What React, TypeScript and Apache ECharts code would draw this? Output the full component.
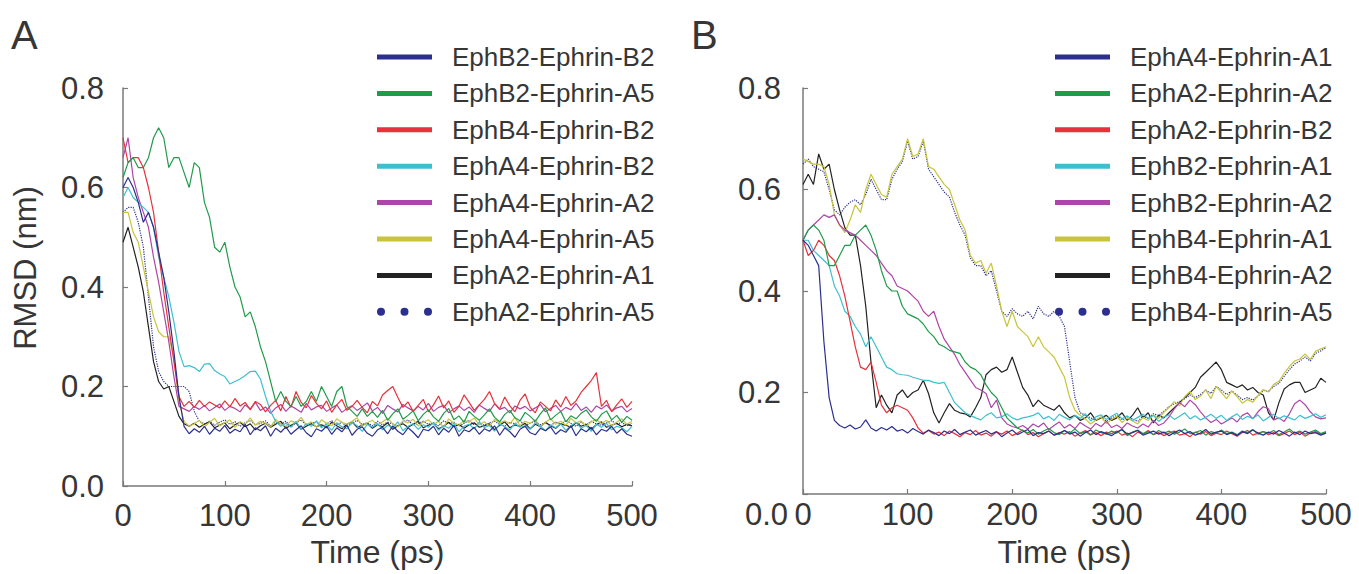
import React, { useEffect, useRef } from "react";
import * as echarts from "echarts";

// Time axis (ps), sampled every 5 ps
const TIME: number[] = Array.from({ length: 101 }, (_, i) => i * 5);

// Panel A
const A_NAMES = [
  "EphB2-Ephrin-B2",
  "EphB2-Ephrin-A5",
  "EphB4-Ephrin-B2",
  "EphA4-Ephrin-B2",
  "EphA4-Ephrin-A2",
  "EphA4-Ephrin-A5",
  "EphA2-Ephrin-A1",
  "EphA2-Ephrin-A5",
];

const A_EPHB2_B2 = [0.60,0.62,0.60,0.57,0.53,0.55,0.52,0.47,0.42,0.35,
0.27,0.18,0.12,0.105,0.115,0.108,0.12,0.104,0.116,0.11,
0.122,0.106,0.114,0.109,0.124,0.103,0.117,0.111,0.121,0.1,
0.116,0.108,0.119,0.104,0.113,0.121,0.107,0.099,0.115,0.11,
0.12,0.104,0.117,0.109,0.122,0.102,0.114,0.119,0.106,0.1,
0.113,0.118,0.105,0.121,0.11,0.103,0.117,0.108,0.097,0.114,
0.111,0.12,0.103,0.116,0.108,0.122,0.1,0.113,0.109,0.118,
0.104,0.115,0.11,0.121,0.102,0.117,0.109,0.098,0.114,0.12,
0.107,0.103,0.116,0.111,0.119,0.104,0.113,0.108,0.121,0.101,
0.115,0.109,0.118,0.103,0.114,0.11,0.12,0.106,0.115,0.104,0.1];

const A_EPHB2_A5 = [0.62,0.65,0.66,0.64,0.64,0.66,0.70,0.72,0.70,0.64,
0.66,0.66,0.63,0.60,0.65,0.64,0.57,0.54,0.48,0.47,
0.49,0.44,0.40,0.38,0.34,0.35,0.32,0.28,0.25,0.21,
0.17,0.19,0.17,0.16,0.18,0.16,0.17,0.19,0.17,0.20,
0.18,0.16,0.19,0.20,0.16,0.15,0.14,0.155,0.14,0.15,
0.138,0.152,0.132,0.145,0.155,0.134,0.142,0.151,0.131,0.144,
0.153,0.139,0.13,0.146,0.156,0.133,0.141,0.128,0.15,0.14,
0.132,0.143,0.155,0.138,0.129,0.144,0.152,0.137,0.131,0.148,
0.14,0.13,0.145,0.157,0.133,0.142,0.15,0.129,0.141,0.135,
0.146,0.153,0.139,0.13,0.144,0.151,0.133,0.142,0.128,0.14,0.132];

const A_EPHB4_B2 = [0.70,0.65,0.66,0.66,0.64,0.60,0.55,0.47,0.39,0.32,
0.25,0.18,0.16,0.17,0.158,0.172,0.16,0.169,0.163,0.157,
0.171,0.159,0.176,0.161,0.168,0.153,0.17,0.164,0.149,0.162,
0.172,0.151,0.18,0.158,0.19,0.168,0.157,0.182,0.166,0.155,
0.171,0.148,0.163,0.174,0.152,0.16,0.172,0.158,0.147,0.17,
0.161,0.183,0.192,0.2,0.178,0.158,0.169,0.15,0.162,0.174,
0.149,0.163,0.181,0.157,0.171,0.148,0.16,0.183,0.168,0.152,
0.163,0.174,0.19,0.166,0.155,0.179,0.161,0.149,0.172,0.185,
0.158,0.147,0.169,0.16,0.151,0.173,0.159,0.18,0.162,0.171,
0.188,0.2,0.212,0.228,0.16,0.172,0.149,0.163,0.175,0.158,0.17];

const A_EPHA4_B2 = [0.58,0.60,0.58,0.57,0.56,0.55,0.52,0.46,0.42,0.38,
0.33,0.27,0.24,0.242,0.238,0.23,0.245,0.246,0.232,0.225,
0.22,0.205,0.21,0.215,0.222,0.23,0.231,0.215,0.18,0.15,
0.13,0.12,0.126,0.118,0.13,0.114,0.125,0.12,0.131,0.117,
0.124,0.112,0.127,0.119,0.115,0.128,0.121,0.11,0.124,0.118,
0.126,0.113,0.122,0.117,0.129,0.111,0.12,0.125,0.114,0.123,
0.118,0.127,0.112,0.121,0.116,0.126,0.109,0.12,0.124,0.115,
0.128,0.117,0.122,0.11,0.125,0.119,0.113,0.126,0.118,0.121,
0.114,0.127,0.12,0.111,0.123,0.117,0.125,0.112,0.121,0.128,
0.116,0.122,0.11,0.124,0.118,0.126,0.113,0.12,0.117,0.109,0.12];

const A_EPHA4_A2 = [0.66,0.70,0.62,0.58,0.55,0.52,0.46,0.41,0.35,0.29,
0.22,0.16,0.155,0.15,0.16,0.154,0.162,0.151,0.158,0.165,
0.152,0.16,0.156,0.149,0.163,0.155,0.168,0.152,0.159,0.146,
0.157,0.164,0.15,0.161,0.155,0.148,0.166,0.153,0.159,0.162,
0.15,0.157,0.163,0.148,0.156,0.161,0.152,0.159,0.167,0.151,
0.158,0.146,0.162,0.155,0.149,0.164,0.157,0.151,0.16,0.153,
0.166,0.15,0.158,0.162,0.147,0.155,0.161,0.152,0.159,0.148,
0.163,0.156,0.15,0.165,0.154,0.158,0.147,0.161,0.155,0.16,
0.151,0.157,0.164,0.149,0.156,0.162,0.15,0.158,0.153,0.166,
0.152,0.159,0.148,0.161,0.155,0.163,0.151,0.157,0.16,0.149,0.156];

const A_EPHA4_A5 = [0.55,0.55,0.51,0.49,0.44,0.39,0.34,0.31,0.30,0.30,
0.26,0.17,0.13,0.12,0.125,0.132,0.119,0.128,0.136,0.121,
0.127,0.133,0.118,0.129,0.124,0.137,0.122,0.13,0.126,0.119,
0.134,0.125,0.12,0.131,0.127,0.138,0.123,0.129,0.118,0.133,
0.126,0.121,0.135,0.128,0.124,0.13,0.137,0.12,0.127,0.132,
0.122,0.129,0.136,0.125,0.119,0.131,0.127,0.134,0.121,0.128,
0.133,0.124,0.13,0.118,0.135,0.126,0.122,0.132,0.128,0.137,
0.123,0.129,0.12,0.134,0.127,0.131,0.125,0.138,0.121,0.13,
0.126,0.133,0.119,0.128,0.135,0.124,0.13,0.122,0.136,0.127,
0.131,0.12,0.129,0.134,0.125,0.132,0.121,0.128,0.135,0.124,0.13];

const A_EPHA2_A1 = [0.49,0.52,0.48,0.44,0.39,0.32,0.25,0.21,0.195,0.20,
0.17,0.14,0.125,0.12,0.126,0.118,0.124,0.129,0.117,0.122,
0.127,0.115,0.123,0.128,0.119,0.125,0.113,0.121,0.126,0.118,
0.124,0.13,0.116,0.122,0.127,0.114,0.12,0.125,0.119,0.123,
0.117,0.128,0.121,0.115,0.124,0.129,0.118,0.122,0.126,0.116,
0.123,0.119,0.127,0.114,0.121,0.125,0.118,0.124,0.13,0.117,
0.122,0.126,0.115,0.12,0.128,0.119,0.124,0.116,0.123,0.127,
0.118,0.121,0.125,0.113,0.122,0.129,0.117,0.123,0.12,0.126,
0.115,0.124,0.119,0.128,0.121,0.116,0.125,0.122,0.118,0.127,
0.12,0.124,0.114,0.123,0.129,0.118,0.122,0.126,0.119,0.124,0.121];

const A_EPHA2_A5 = [0.55,0.56,0.56,0.53,0.48,0.38,0.28,0.23,0.21,0.20,
0.20,0.20,0.20,0.19,0.15,0.13,0.125,0.13,0.122,0.128,
0.133,0.124,0.129,0.12,0.127,0.132,0.123,0.126,0.131,0.121,
0.128,0.124,0.13,0.119,0.127,0.133,0.122,0.126,0.129,0.12,
0.125,0.131,0.123,0.128,0.119,0.126,0.132,0.124,0.127,0.121,
0.13,0.123,0.128,0.125,0.12,0.129,0.133,0.122,0.126,0.13,
0.124,0.127,0.121,0.131,0.125,0.128,0.12,0.126,0.132,0.123,
0.129,0.122,0.127,0.13,0.124,0.12,0.128,0.125,0.131,0.122,
0.126,0.13,0.123,0.127,0.121,0.129,0.124,0.132,0.126,0.12,
0.128,0.123,0.13,0.125,0.122,0.127,0.131,0.124,0.128,0.121,0.126];

// Panel B
const B_NAMES = [
  "EphA4-Ephrin-A1",
  "EphA2-Ephrin-A2",
  "EphA2-Ephrin-B2",
  "EphB2-Ephrin-A1",
  "EphB2-Ephrin-A2",
  "EphB4-Ephrin-A1",
  "EphB4-Ephrin-A2",
  "EphB4-Ephrin-A5",
];

const B_EPHA4_A1 = [0.50,0.49,0.47,0.45,0.30,0.19,0.145,0.135,0.13,0.136,
0.128,0.132,0.146,0.13,0.124,0.131,0.126,0.133,0.124,0.127,
0.12,0.129,0.123,0.118,0.126,0.121,0.115,0.124,0.119,0.127,
0.117,0.122,0.126,0.116,0.121,0.125,0.118,0.123,0.113,0.12,
0.126,0.117,0.122,0.127,0.115,0.121,0.119,0.124,0.116,0.12,
0.125,0.118,0.122,0.114,0.121,0.126,0.117,0.123,0.119,0.115,
0.122,0.127,0.118,0.121,0.125,0.116,0.12,0.124,0.118,0.122,
0.115,0.121,0.126,0.119,0.123,0.116,0.12,0.127,0.118,0.122,
0.124,0.117,0.121,0.115,0.123,0.119,0.126,0.12,0.116,0.122,
0.118,0.125,0.12,0.114,0.122,0.117,0.124,0.119,0.121,0.116,0.12];

const B_EPHA2_A2 = [0.50,0.52,0.53,0.52,0.50,0.45,0.45,0.47,0.49,0.49,
0.51,0.52,0.53,0.51,0.48,0.44,0.41,0.40,0.40,0.37,
0.355,0.35,0.345,0.335,0.32,0.31,0.295,0.29,0.283,0.28,
0.277,0.26,0.25,0.245,0.235,0.215,0.20,0.19,0.17,0.15,
0.14,0.13,0.125,0.12,0.127,0.118,0.124,0.129,0.121,0.117,
0.125,0.12,0.128,0.119,0.123,0.116,0.126,0.121,0.118,0.124,
0.12,0.127,0.115,0.122,0.126,0.119,0.123,0.117,0.125,0.12,
0.124,0.118,0.122,0.128,0.119,0.121,0.125,0.116,0.123,0.12,
0.126,0.119,0.122,0.117,0.124,0.121,0.127,0.118,0.123,0.12,
0.125,0.117,0.122,0.128,0.12,0.124,0.118,0.122,0.126,0.119,0.123];

const B_EPHA2_B2 = [0.50,0.47,0.48,0.50,0.49,0.47,0.46,0.43,0.39,0.34,
0.29,0.25,0.245,0.26,0.22,0.175,0.16,0.17,0.175,0.17,
0.165,0.15,0.13,0.12,0.125,0.118,0.122,0.115,0.124,0.119,
0.113,0.121,0.117,0.125,0.116,0.12,0.114,0.122,0.118,0.124,
0.115,0.12,0.126,0.117,0.121,0.113,0.119,0.124,0.116,0.121,
0.118,0.123,0.114,0.12,0.125,0.117,0.121,0.115,0.122,0.119,
0.124,0.116,0.12,0.113,0.122,0.118,0.125,0.117,0.121,0.115,
0.12,0.124,0.116,0.119,0.113,0.122,0.118,0.123,0.115,0.12,
0.117,0.124,0.119,0.114,0.121,0.125,0.116,0.12,0.123,0.117,
0.121,0.115,0.119,0.124,0.117,0.122,0.114,0.12,0.123,0.118,0.121];

const B_EPHB2_A1 = [0.50,0.50,0.48,0.47,0.46,0.45,0.41,0.39,0.36,0.35,
0.33,0.315,0.29,0.31,0.29,0.27,0.25,0.245,0.237,0.235,
0.234,0.23,0.227,0.224,0.224,0.22,0.218,0.22,0.20,0.18,
0.17,0.16,0.155,0.15,0.146,0.155,0.16,0.15,0.152,0.158,
0.15,0.146,0.15,0.152,0.155,0.16,0.148,0.153,0.145,0.157,
0.151,0.146,0.155,0.149,0.158,0.144,0.152,0.156,0.147,0.153,
0.159,0.148,0.154,0.145,0.151,0.157,0.149,0.155,0.143,0.152,
0.156,0.147,0.153,0.16,0.148,0.154,0.146,0.151,0.157,0.149,
0.155,0.145,0.152,0.158,0.147,0.153,0.149,0.156,0.144,0.151,
0.157,0.148,0.154,0.15,0.146,0.155,0.149,0.153,0.158,0.151,0.156];

const B_EPHB2_A2 = [0.50,0.52,0.53,0.54,0.55,0.545,0.55,0.53,0.52,0.515,
0.51,0.50,0.49,0.48,0.47,0.455,0.44,0.43,0.41,0.405,
0.40,0.39,0.38,0.36,0.35,0.36,0.33,0.305,0.29,0.275,
0.255,0.24,0.225,0.21,0.205,0.198,0.17,0.185,0.15,0.138,
0.133,0.13,0.135,0.128,0.138,0.132,0.14,0.127,0.135,0.142,
0.13,0.137,0.129,0.141,0.134,0.128,0.139,0.133,0.143,0.131,
0.136,0.129,0.14,0.134,0.13,0.138,0.132,0.145,0.135,0.14,
0.152,0.168,0.18,0.172,0.185,0.176,0.162,0.15,0.141,0.147,
0.138,0.144,0.15,0.142,0.155,0.16,0.148,0.162,0.172,0.168,
0.146,0.15,0.143,0.158,0.178,0.185,0.176,0.162,0.152,0.148,0.15];

const B_EPHB4_A1 = [0.66,0.655,0.65,0.65,0.645,0.61,0.55,0.53,0.515,0.54,
0.57,0.555,0.60,0.63,0.61,0.59,0.585,0.63,0.645,0.66,
0.70,0.665,0.67,0.70,0.645,0.64,0.625,0.61,0.60,0.57,
0.54,0.52,0.47,0.455,0.46,0.435,0.455,0.41,0.36,0.33,
0.36,0.33,0.32,0.31,0.29,0.31,0.29,0.28,0.27,0.25,
0.23,0.19,0.165,0.155,0.148,0.138,0.146,0.152,0.139,0.147,
0.153,0.141,0.15,0.144,0.138,0.151,0.145,0.156,0.149,0.161,
0.171,0.182,0.174,0.192,0.202,0.186,0.193,0.205,0.188,0.212,
0.2,0.188,0.203,0.192,0.179,0.186,0.181,0.194,0.206,0.201,
0.216,0.222,0.238,0.251,0.262,0.266,0.276,0.265,0.281,0.286,0.29];

const B_EPHB4_A2 = [0.61,0.63,0.61,0.67,0.64,0.65,0.60,0.56,0.525,0.51,
0.51,0.45,0.37,0.26,0.17,0.195,0.175,0.16,0.195,0.205,
0.19,0.2,0.205,0.224,0.198,0.16,0.14,0.16,0.178,0.165,
0.16,0.158,0.152,0.17,0.19,0.235,0.245,0.25,0.24,0.245,
0.27,0.24,0.21,0.195,0.172,0.185,0.175,0.17,0.165,0.175,
0.16,0.15,0.155,0.145,0.15,0.16,0.145,0.15,0.155,0.145,
0.15,0.16,0.145,0.155,0.17,0.15,0.16,0.14,0.155,0.15,
0.16,0.17,0.18,0.19,0.2,0.21,0.23,0.24,0.25,0.26,
0.245,0.22,0.215,0.21,0.215,0.205,0.21,0.2,0.195,0.16,
0.146,0.18,0.207,0.215,0.22,0.22,0.2,0.205,0.21,0.228,0.22];

const B_EPHB4_A5 = [0.65,0.66,0.645,0.64,0.635,0.60,0.56,0.55,0.565,0.575,
0.58,0.57,0.59,0.62,0.60,0.58,0.58,0.62,0.64,0.655,
0.695,0.66,0.665,0.695,0.64,0.625,0.61,0.595,0.585,0.555,
0.53,0.51,0.465,0.45,0.45,0.43,0.44,0.40,0.36,0.35,
0.365,0.355,0.35,0.36,0.345,0.37,0.355,0.35,0.36,0.35,
0.33,0.26,0.19,0.16,0.155,0.15,0.145,0.152,0.143,0.15,
0.155,0.146,0.152,0.148,0.143,0.153,0.149,0.158,0.155,0.163,
0.172,0.178,0.182,0.188,0.195,0.19,0.196,0.205,0.198,0.212,
0.205,0.196,0.203,0.195,0.186,0.19,0.185,0.193,0.204,0.202,
0.212,0.218,0.232,0.245,0.256,0.262,0.27,0.262,0.277,0.282,0.288];

const A_VALUES = [A_EPHB2_B2, A_EPHB2_A5, A_EPHB4_B2, A_EPHA4_B2, A_EPHA4_A2, A_EPHA4_A5, A_EPHA2_A1, A_EPHA2_A5];
const B_VALUES = [B_EPHA4_A1, B_EPHA2_A2, B_EPHA2_B2, B_EPHB2_A1, B_EPHB2_A2, B_EPHB4_A1, B_EPHB4_A2, B_EPHB4_A5];

const COLORS = ["#2b2f8f", "#1f9b4a", "#e5323b", "#3cc0cf", "#ad46a6", "#c8c53a", "#222222", "#2b2f8f"];

const Y_TICKS = [0, 0.2, 0.4, 0.6, 0.8];

const FONT = "'Liberation Sans', Arial, Helvetica, sans-serif";
const TXT = "#363636";
const AXIS = "#7a7a7a";

const BAR_ICON = "path://M0,0L0.01,0M0,1.5H55V6.5H0ZM54.99,8L55,8";
const DOT_ICON =
  "path://M0,4A4,4 0 1,1 8,4A4,4 0 1,1 0,4ZM23.5,4A4,4 0 1,1 31.5,4A4,4 0 1,1 23.5,4ZM47,4A4,4 0 1,1 55,4A4,4 0 1,1 47,4Z";

function makeSeries(names: string[], values: number[][], axisIndex: number) {
  return names.map((name, i) => ({
    name,
    type: "line",
    xAxisIndex: axisIndex,
    yAxisIndex: axisIndex,
    showSymbol: false,
    symbol: "none",
    color: COLORS[i],
    lineStyle: { width: 1.2, color: COLORS[i], type: i === 7 ? "dotted" : "solid" },
    data: values[i].map((v, k) => [TIME[k], v]),
    z: 2 + (7 - i),
  }));
}

function makeLegend(names: string[], left: number) {
  return {
    orient: "vertical",
    left,
    top: 44,
    padding: 0,
    itemWidth: 55,
    itemHeight: 8,
    itemGap: 10.4,
    selectedMode: false,
    itemStyle: { borderWidth: 0 },
    textStyle: { fontSize: 26, color: TXT, fontFamily: FONT, lineHeight: 26, padding: [0, 0, 0, 15] },
    data: names.map((n, i) => ({ name: n, icon: i === 7 ? DOT_ICON : BAR_ICON })),
  };
}

function xAxisCfg(gridIndex: number, labelMargin: number, nameGap: number) {
  return {
    type: "value",
    gridIndex,
    min: 0,
    max: 500,
    interval: 100,
    name: "Time (ps)",
    nameLocation: "middle",
    nameGap,
    nameTextStyle: { fontSize: 32, color: TXT, fontFamily: FONT },
    axisLine: { show: true, lineStyle: { color: AXIS, width: 1.5 } },
    axisTick: { show: true, inside: true, length: 5, lineStyle: { color: AXIS, width: 1.2 } },
    axisLabel: { fontSize: 31, color: TXT, fontFamily: FONT, margin: labelMargin },
    splitLine: { show: false },
  };
}

function yAxisCfg(gridIndex: number, labelMargin: number, showZero: boolean, withName: boolean) {
  return {
    type: "value",
    gridIndex,
    min: 0,
    max: 0.8,
    interval: 0.2,
    name: withName ? "RMSD (nm)" : "",
    nameLocation: "middle",
    nameGap: 82,
    nameTextStyle: { fontSize: 31, color: TXT, fontFamily: FONT, padding: [0, 0, 0, 38] },
    axisLine: { show: true, lineStyle: { color: AXIS, width: 1.5 } },
    axisTick: { show: true, inside: true, length: 5, lineStyle: { color: AXIS, width: 1.2 } },
    axisLabel: {
      fontSize: 31,
      color: TXT,
      fontFamily: FONT,
      margin: labelMargin,
      formatter: (v: number) => (!showZero && Math.abs(v) < 1e-9 ? "" : Y_TICKS.includes(Math.round(v * 10) / 10) ? v.toFixed(1) : ""),
    },
    splitLine: { show: false },
  };
}

export default function App() {
  const ref = useRef<HTMLDivElement>(null);
  useEffect(() => {
    document.body.style.margin = "0";
    if (!ref.current) return;
    const chart = echarts.init(ref.current, null, { renderer: "svg" });
    chart.setOption({
      animation: false,
      backgroundColor: "#ffffff",
      textStyle: { fontFamily: FONT },
      grid: [
        { left: 123, top: 88, width: 509, height: 398 },
        { left: 803, top: 88, width: 523, height: 406 },
      ],
      xAxis: [xAxisCfg(0, 14, 50), xAxisCfg(1, 5, 42)],
      yAxis: [yAxisCfg(0, 19, true, true), yAxisCfg(1, 22, false, false)],
      legend: [makeLegend(A_NAMES, 377), makeLegend(B_NAMES, 1055)],
      graphic: [
        {
          type: "text",
          left: 11,
          top: 15,
          style: { text: "A", fontSize: 40, fontFamily: FONT, fill: TXT },
        },
        {
          type: "text",
          left: 691,
          top: 15,
          style: { text: "B", fontSize: 40, fontFamily: FONT, fill: TXT },
        },
        {
          type: "text",
          right: 1359 - 788,
          top: 499,
          style: { text: "0.0", fontSize: 31, fontFamily: FONT, fill: TXT },
        },
      ],
      series: [...makeSeries(A_NAMES, A_VALUES, 0), ...makeSeries(B_NAMES, B_VALUES, 1)],
    });
    return () => chart.dispose();
  }, []);
  return <div ref={ref} style={{ width: 1359, height: 574 }} />;
}
